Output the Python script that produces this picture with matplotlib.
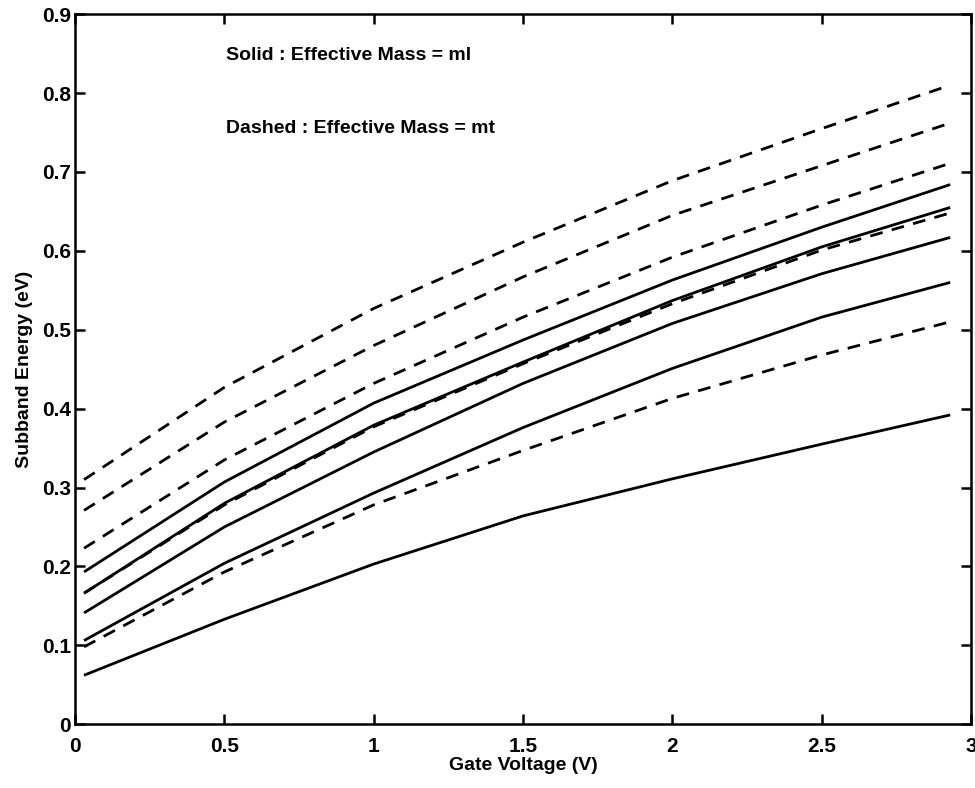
import matplotlib
matplotlib.use("Agg")
import matplotlib.pyplot as plt

plt.rcParams['font.family'] = ['Liberation Sans', 'DejaVu Sans']

# gate voltage sample points (V)
vg = [0.03, 0.5, 1.0, 1.5, 2.0, 2.5, 2.93]

# subband energies (eV), longitudinal mass ml
solid_ml = [
    [0.193, 0.307, 0.407, 0.487, 0.563, 0.630, 0.684],
    [0.166, 0.280, 0.379, 0.459, 0.537, 0.605, 0.655],
    [0.141, 0.250, 0.345, 0.432, 0.508, 0.571, 0.617],
    [0.106, 0.204, 0.293, 0.376, 0.451, 0.516, 0.560],
    [0.062, 0.133, 0.203, 0.264, 0.311, 0.355, 0.392],
]

# subband energies (eV), transverse mass mt
dashed_mt = [
    [0.310, 0.427, 0.527, 0.611, 0.689, 0.755, 0.810],
    [0.271, 0.383, 0.480, 0.567, 0.645, 0.708, 0.762],
    [0.223, 0.335, 0.432, 0.516, 0.592, 0.658, 0.711],
    [0.166, 0.278, 0.377, 0.457, 0.533, 0.601, 0.648],
    [0.098, 0.193, 0.278, 0.347, 0.413, 0.468, 0.510],
]

fig = plt.figure(figsize=(9.75, 7.88), dpi=100)
ax = fig.add_axes([0.077, 0.081, 0.919, 0.901])

for e in solid_ml:
    ax.plot(vg, e, color='black', lw=2.0, solid_capstyle='butt')
for e in dashed_mt:
    ax.plot(vg, e, color='black', lw=2.0, linestyle=(0, (4.6, 3.4)), dash_capstyle='butt')

ax.set_xlim(0, 3)
ax.set_ylim(0, 0.9)
ax.set_xticks([0, 0.5, 1, 1.5, 2, 2.5, 3])
ax.set_xticklabels(['0', '0.5', '1', '1.5', '2', '2.5', '3'])
ax.set_yticks([0, 0.1, 0.2, 0.3, 0.4, 0.5, 0.6, 0.7, 0.8, 0.9])
ax.set_yticklabels(['0', '0.1', '0.2', '0.3', '0.4', '0.5', '0.6', '0.7', '0.8', '0.9'])
ax.tick_params(direction='in', length=7, width=1.8, top=True, right=True,
               labelsize=15)
ax.tick_params(axis='x', pad=9)
ax.tick_params(axis='y', pad=3)
for lab in ax.get_xticklabels() + ax.get_yticklabels():
    lab.set_fontweight('bold')
for sp in ax.spines.values():
    sp.set_linewidth(1.8)

ax.set_xlabel('Gate Voltage (V)', fontsize=14, fontweight='bold', labelpad=1)
ax.set_ylabel('Subband Energy (eV)', fontsize=14, fontweight='bold', labelpad=6)

ax.text(0.505, 0.847, 'Solid : Effective Mass = ml', fontsize=14, fontweight='bold', va='center')
ax.text(0.505, 0.755, 'Dashed : Effective Mass = mt', fontsize=14, fontweight='bold', va='center')

fig.savefig('out.png', dpi=100)
